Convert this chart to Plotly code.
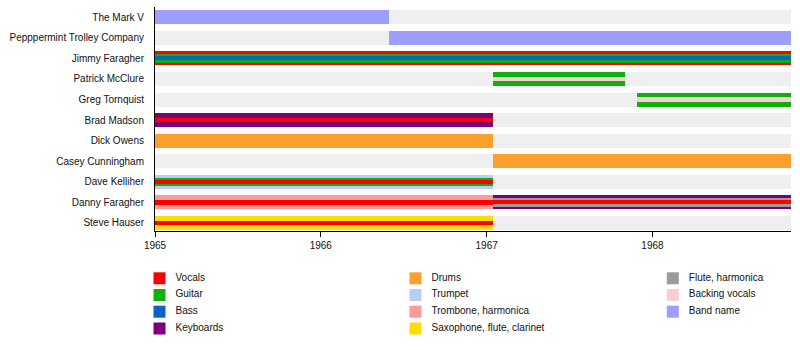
import plotly.graph_objects as go
import pandas as pd

# ---------------- data ----------------
members = ["The Mark V", "Pepppermint Trolley Company", "Jimmy Faragher", "Patrick McClure",
           "Greg Tornquist", "Brad Madson", "Dick Owens", "Casey Cunningham",
           "Dave Kelliher", "Danny Faragher", "Steve Hauser"]

roles = ["Vocals", "Guitar", "Bass", "Keyboards", "Drums", "Trumpet",
         "Trombone, harmonica", "Saxophone, flute, clarinet", "Flute, harmonica",
         "Backing vocals", "Band name"]
role_colors = ["#ff0000", "#0db00d", "#0a64c8", "#7c007c", "#fba02c", "#b9cdf7",
               "#fc9b9b", "#ffdc00", "#9b9b9b", "#f9cdd1", "#9e9eff"]

period_start = "1965-01-01"
period_end = "1968-11-01"

seg_member = ["The Mark V", "Pepppermint Trolley Company", "Jimmy Faragher", "Patrick McClure",
              "Greg Tornquist", "Brad Madson", "Dick Owens", "Casey Cunningham",
              "Dave Kelliher", "Danny Faragher", "Danny Faragher", "Steve Hauser"]
seg_start = ["1965-01-01", "1966-06-01", "1965-01-01", "1967-01-15",
             "1967-11-28", "1965-01-01", "1965-01-01", "1967-01-15",
             "1965-01-01", "1965-01-01", "1967-01-15", "1965-01-01"]
seg_end = ["1966-06-01", "1968-11-01", "1968-11-01", "1967-11-01",
           "1968-11-01", "1967-01-15", "1967-01-15", "1968-11-01",
           "1967-01-15", "1967-01-15", "1968-11-01", "1967-01-15"]
seg_roles = [["Band name"], ["Band name"], ["Vocals", "Guitar", "Bass"],
             ["Guitar", "Backing vocals"], ["Guitar", "Backing vocals"],
             ["Keyboards", "Vocals"], ["Drums"], ["Drums"],
             ["Trumpet", "Guitar", "Vocals"], ["Trombone, harmonica", "Vocals"],
             ["Keyboards", "Flute, harmonica", "Vocals"], ["Saxophone, flute, clarinet", "Vocals"]]

year_ticks = ["1965-01-01", "1966-01-01", "1967-01-01", "1968-01-01"]
year_labels = ["1965", "1966", "1967", "1968"]

# ---------------- style ----------------
FONT = "Liberation Sans, Arial, sans-serif"
TXT = "#111111"
BG_BAR = "#efefef"
layer_widths = {1: [0.68], 2: [0.68, 0.22], 3: [0.68, 0.41, 0.2]}
color_of = dict(zip(roles, role_colors))


def dur_ms(a, b):
    return (pd.Timestamp(b) - pd.Timestamp(a)).total_seconds() * 1000.0


fig = go.Figure()

# background bars
fig.add_trace(go.Bar(
    orientation="h", y=members, base=[period_start] * len(members),
    x=[dur_ms(period_start, period_end)] * len(members),
    width=[0.68] * len(members), marker=dict(color=BG_BAR, line=dict(width=0)),
    showlegend=False, hoverinfo="skip"))

# member bars (outer role first, inner roles on top)
for m, s, e, rl in zip(seg_member, seg_start, seg_end, seg_roles):
    ws = layer_widths[len(rl)]
    for r, w in zip(rl, ws):
        fig.add_trace(go.Bar(
            orientation="h", y=[m], base=[s], x=[dur_ms(s, e)], width=[w],
            marker=dict(color=color_of[r], line=dict(width=0)),
            showlegend=False, name=r))

# legend drawn in a hidden overlay subplot whose units are pixels
col_x = [159.5, 415.5, 672.8]
row_y = [278.3, 295.0, 311.7, 328.5]
lx, ly, tx = [], [], []
for i, r in enumerate(roles):
    c, rr = divmod(i, 4)
    lx.append(col_x[c])
    ly.append(row_y[rr])
    tx.append(col_x[c] + 16)

fig.add_trace(go.Scatter(
    x=lx, y=ly, mode="markers", xaxis="x2", yaxis="y2",
    marker=dict(symbol="square", size=12, color=role_colors, line=dict(width=0)),
    showlegend=False, hoverinfo="skip", cliponaxis=False))
fig.add_trace(go.Scatter(
    x=tx, y=ly, mode="text", text=roles, textposition="middle right",
    textfont=dict(family=FONT, size=10, color=TXT), xaxis="x2", yaxis="y2",
    showlegend=False, hoverinfo="skip", cliponaxis=False))

T, B = 7, 10
paper_h = 350 - T - B
main_bottom_px = 231
fig.update_layout(
    width=800, height=350,
    margin=dict(l=155, r=9, t=T, b=B, pad=0),
    paper_bgcolor="white", plot_bgcolor="rgba(0,0,0,0)",
    barmode="overlay", bargap=0,
    font=dict(family=FONT, size=10, color=TXT),
    xaxis=dict(type="date", range=[period_start, period_end], domain=[0, 1], anchor="y",
               tickvals=year_ticks, ticktext=year_labels, ticks="outside", ticklen=5,
               tickcolor="black", showline=True, linecolor="black", linewidth=1,
               showgrid=False, zeroline=False, tickfont=dict(size=10, color=TXT)),
    yaxis=dict(type="category", categoryorder="array", categoryarray=members,
               range=[10.39, -0.5], domain=[(350 - B - main_bottom_px) / paper_h, 1],
               anchor="x", showline=True, linecolor="black", linewidth=1, ticks="",
               showgrid=False, zeroline=False, ticklabelstandoff=8,
               tickfont=dict(size=10, color=TXT)),
    xaxis2=dict(domain=[0, 1], range=[155, 791], anchor="y2", visible=False),
    yaxis2=dict(domain=[0, 0.22], range=[340, 340 - 0.22 * paper_h], anchor="x2",
                visible=False),
)

fig.write_html("out.html")
